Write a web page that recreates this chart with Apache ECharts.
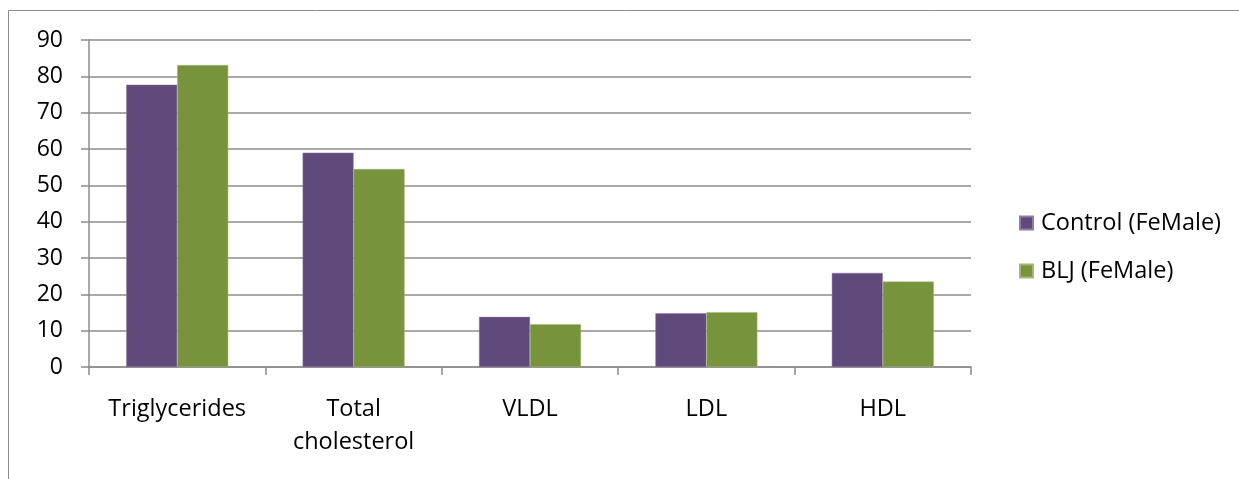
<!DOCTYPE html>
<html><head><meta charset="utf-8">
<script src="https://cdn.jsdelivr.net/npm/echarts@6/dist/echarts.min.js"></script>
<style>html,body{margin:0;padding:0;background:#fff}#c{width:1239px;height:479px}</style>
</head><body><div id="c"></div>
<script>
const categories = ['Triglycerides', 'Total\ncholesterol', 'VLDL', 'LDL', 'HDL'];
const controlValues = [77.7, 59.0, 13.8, 14.8, 25.9];
const bljValues = [83.1, 54.5, 11.8, 15.1, 23.5];
const seriesNames = ['Control (FeMale)', 'BLJ (FeMale)'];
const yTicks = {min: 0, max: 90, interval: 10};

const FONT = '"Open Sans", sans-serif';
const chart = echarts.init(document.getElementById('c'), null, {renderer: 'canvas'});
chart.setOption({
  animation: false,
  textStyle: {fontFamily: FONT},
  graphic: [{type: 'rect', shape: {x: 8.5, y: 10.5, width: 1300, height: 600}, style: {fill: 'none', stroke: '#8c8c8c', lineWidth: 1}, silent: true}],
  grid: {left: 89, right: 268, top: 40, bottom: 112},
  legend: {
    orient: 'vertical', left: 1019, top: 210, padding: 0, itemWidth: 13, itemHeight: 13, itemGap: 22, icon: 'rect',
    textStyle: {fontFamily: FONT, fontSize: 23.5, color: '#000', lineHeight: 26, padding: [0, 0, 0, 3]},
    data: seriesNames
  },
  xAxis: {
    type: 'category', data: categories,
    axisLine: {lineStyle: {color: '#8c8c8c', width: 1.5}},
    axisTick: {show: true, length: 8, lineStyle: {color: '#8c8c8c', width: 1.5}},
    axisLabel: {fontFamily: FONT, fontSize: 23.5, color: '#000', margin: 26, lineHeight: 33, interval: 0}
  },
  yAxis: {
    type: 'value', min: yTicks.min, max: yTicks.max, interval: yTicks.interval,
    axisLine: {show: true, lineStyle: {color: '#8c8c8c', width: 1.5}},
    axisTick: {show: true, length: 8, lineStyle: {color: '#8c8c8c', width: 1.5}},
    axisLabel: {fontFamily: FONT, fontSize: 23, color: '#000', margin: 26},
    splitLine: {lineStyle: {color: '#8c8c8c', width: 1.5}}
  },
  series: [
    {name: seriesNames[0], type: 'bar', data: controlValues, barWidth: 51, barGap: '0%',
     itemStyle: {color: '#604A7B', borderColor: '#8e7ea3', borderWidth: 0.5}},
    {name: seriesNames[1], type: 'bar', data: bljValues, barWidth: 51, barGap: '0%',
     itemStyle: {color: '#77933C', borderColor: '#a3b77a', borderWidth: 0.5}}
  ]
});
</script></body></html>
